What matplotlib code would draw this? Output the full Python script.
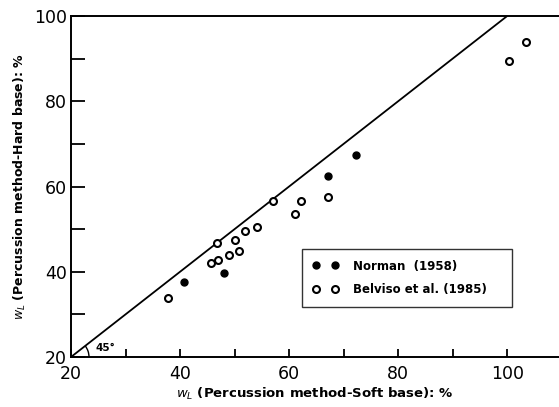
import numpy as np
import matplotlib.pyplot as plt
from matplotlib.patches import Arc

# Norman (1958) - filled
norman_soft = [40.8, 48.1, 67.2, 72.3]
norman_hard = [37.7, 39.6, 62.5, 67.4]

# Belviso et al. (1985) - open
belviso_soft = [37.8, 46.7, 45.7, 47.0, 49.0, 50.1, 50.9, 51.9, 54.1,
                57.0, 61.0, 62.1, 67.2, 100.4, 103.4]
belviso_hard = [33.8, 46.8, 42.0, 42.8, 43.9, 47.4, 44.9, 49.6, 50.6,
                56.7, 53.6, 56.6, 57.5, 89.5, 93.9]

line_x = [20, 100]

W, H = 559, 407
fig = plt.figure(figsize=(W / 100, H / 100), dpi=100)
ax = fig.add_axes([71 / W, (H - 357) / H, (W - 71) / W, 341 / H])

ax.plot(line_x, line_x, color="black", lw=1.3)
ax.plot(norman_soft, norman_hard, "o", color="black", ms=5,
        label="Norman  (1958)")
ax.plot(belviso_soft, belviso_hard, "o", mfc="white", mec="black", mew=1.5,
        ms=5, label="Belviso et al. (1985)")

ax.add_patch(Arc((20, 20), 6.6, 8.5, theta1=0, theta2=45, color="black", lw=1))
ax.text(24.5, 21.3, "45°", fontsize=7.5, fontweight="bold")

ax.set_xlim(20, 109.5)
ax.set_ylim(20, 100)
ax.set_xticks([20, 40, 60, 80, 100])
ax.set_xticks([30, 50, 70, 90], minor=True)
ax.set_yticks([20, 40, 60, 80, 100])
ax.set_yticks([30, 50, 70, 90], minor=True)
ax.tick_params(axis="both", which="both", direction="in", width=1.3)
ax.tick_params(axis="y", which="both", length=10, labelsize=12.5, pad=3)
ax.tick_params(axis="x", which="both", length=6, labelsize=12.5, pad=6)

ax.spines["right"].set_visible(False)
for s in ["left", "bottom", "top"]:
    ax.spines[s].set_linewidth(1.4)

ax.set_xlabel("$w_L$ (Percussion method-Soft base): %", fontsize=9.5,
              fontweight="bold", labelpad=2)
ax.set_ylabel("$w_L$ (Percussion method-Hard base): %", fontsize=9,
              fontweight="bold", labelpad=4)

ax.legend(loc="lower left", bbox_to_anchor=(0.473, 0.147, 0.43, 0.158),
          mode="expand", numpoints=2, frameon=True, fancybox=False,
          edgecolor="black", borderaxespad=0, handlelength=2.2,
          borderpad=0.9, labelspacing=0.9, handletextpad=1.2,
          prop={"weight": "bold", "size": 8.5})

fig.savefig("out.png", dpi=100)
